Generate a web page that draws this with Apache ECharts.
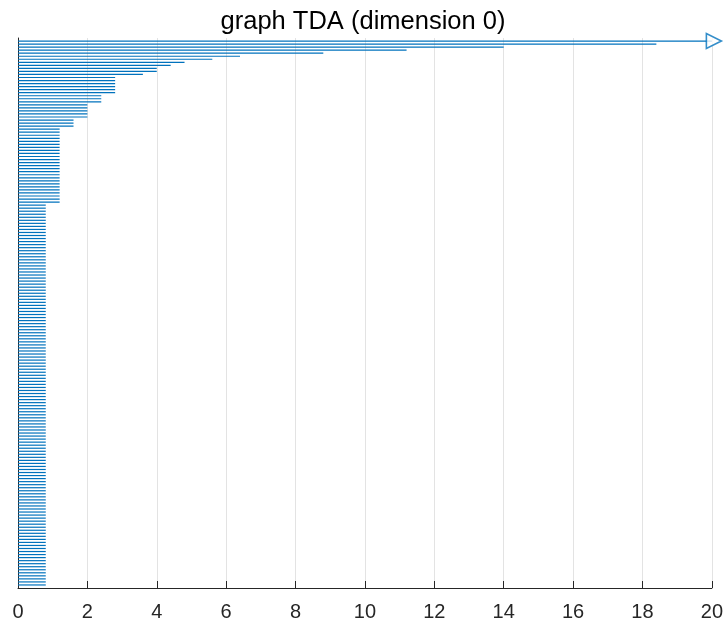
<!DOCTYPE html>
<html>
<head>
<meta charset="utf-8">
<script src="https://cdn.jsdelivr.net/npm/echarts@6/dist/echarts.min.js"></script>
<style>
  html, body { margin: 0; padding: 0; background: #fff; }
  #chart { width: 726px; height: 627px; }
</style>
</head>
<body>
<div id="chart"></div>
<script>
// Persistence barcode, dimension 0: every bar is born at 0 and dies at the value below.
// Infinity marks the class that never dies (drawn to the axis end with an arrow).
const TITLE = 'graph TDA (dimension 0)';
const BIRTH = 0;
const deaths = [
  Infinity, 18.4, 14.0, 11.2, 8.8, 6.4, 5.6, 4.8, 4.4, 4.0, 4.0, 3.6,
  2.8, 2.8, 2.8, 2.8, 2.8, 2.8,
  2.4, 2.4, 2.4,
  2.0, 2.0, 2.0, 2.0, 2.0,
  1.6, 1.6, 1.6,
  1.2, 1.2, 1.2, 1.2, 1.2, 1.2, 1.2, 1.2, 1.2, 1.2, 1.2, 1.2,
  1.2, 1.2, 1.2, 1.2, 1.2, 1.2, 1.2, 1.2, 1.2, 1.2, 1.2, 1.2, 1.2,
  0.8, 0.8, 0.8, 0.8, 0.8, 0.8, 0.8, 0.8, 0.8, 0.8, 0.8, 0.8, 0.8, 0.8, 0.8,
  0.8, 0.8, 0.8, 0.8, 0.8, 0.8, 0.8, 0.8, 0.8, 0.8, 0.8, 0.8, 0.8, 0.8, 0.8, 0.8,
  0.8, 0.8, 0.8, 0.8, 0.8, 0.8, 0.8, 0.8, 0.8, 0.8, 0.8, 0.8, 0.8, 0.8, 0.8, 0.8,
  0.8, 0.8, 0.8, 0.8, 0.8, 0.8, 0.8, 0.8, 0.8, 0.8, 0.8, 0.8, 0.8, 0.8, 0.8, 0.8,
  0.8, 0.8, 0.8, 0.8, 0.8, 0.8, 0.8, 0.8, 0.8, 0.8, 0.8, 0.8, 0.8, 0.8, 0.8, 0.8,
  0.8, 0.8, 0.8, 0.8, 0.8, 0.8, 0.8, 0.8, 0.8, 0.8, 0.8, 0.8, 0.8, 0.8, 0.8, 0.8,
  0.8, 0.8, 0.8, 0.8, 0.8, 0.8, 0.8, 0.8, 0.8, 0.8, 0.8, 0.8, 0.8, 0.8, 0.8, 0.8,
  0.8, 0.8, 0.8, 0.8, 0.8, 0.8, 0.8, 0.8, 0.8, 0.8, 0.8, 0.8, 0.8, 0.8, 0.8
];
const xTicks = [0, 2, 4, 6, 8, 10, 12, 14, 16, 18, 20];

const X_MIN = xTicks[0];
const X_MAX = xTicks[xTicks.length - 1];
const BAR_COLOR = '#0072BD';
const FONT = '"Liberation Sans", Arial, Helvetica, sans-serif';

// [birth, row, death] with the infinite bar clipped to the axis end
const bars = deaths.map((d, i) => [BIRTH, i + 1, isFinite(d) ? d : X_MAX]);
const arrows = deaths
  .map((d, i) => (isFinite(d) ? null : [X_MAX, i + 1]))
  .filter(Boolean);

const chart = echarts.init(document.getElementById('chart'), null, { renderer: 'canvas' });

chart.setOption({
  animation: false,
  backgroundColor: '#ffffff',
  title: {
    text: TITLE,
    left: 'center',
    top: 4,
    textStyle: { fontFamily: FONT, fontSize: 25.5, fontWeight: 'normal', color: '#000' }
  },
  grid: { left: 18, right: 14, top: 38, bottom: 39, containLabel: false },
  xAxis: {
    type: 'value',
    min: X_MIN,
    max: X_MAX,
    interval: 2,
    axisLine: { show: true, onZero: false, lineStyle: { color: '#262626', width: 1 } },
    axisTick: { show: true, inside: true, length: 7, lineStyle: { color: '#262626', width: 1 } },
    axisLabel: {
      margin: 14,
      fontFamily: '"Liberation Sans Narrow", ' + FONT,
      fontSize: 20,
      color: '#262626',
      formatter: v => String(v)
    },
    splitLine: { show: true, lineStyle: { color: '#e3e3e3', width: 1 } }
  },
  yAxis: {
    type: 'value',
    min: 0,
    max: deaths.length + 1,
    inverse: true,
    axisLine: { show: true, onZero: false, lineStyle: { color: '#262626', width: 1 } },
    axisTick: { show: false },
    axisLabel: { show: false },
    splitLine: { show: false }
  },
  series: [
    {
      type: 'custom',
      data: bars,
      clip: false,
      renderItem: function (params, api) {
        const row = api.value(1);
        const p0 = api.coord([api.value(0), row]);
        const p1 = api.coord([api.value(2), row]);
        return {
          type: 'line',
          shape: { x1: p0[0], y1: p0[1], x2: p1[0], y2: p1[1] },
          style: { stroke: BAR_COLOR, lineWidth: 1.2 }
        };
      },
      encode: { x: [0, 2], y: 1 }
    },
    {
      type: 'scatter',
      data: arrows,
      clip: false,
      symbol: 'triangle',
      symbolRotate: -90,
      symbolSize: 15,
      symbolOffset: [2, 0],
      itemStyle: { color: '#ffffff', borderColor: BAR_COLOR, borderWidth: 1.6 },
      z: 5
    }
  ]
});
</script>
</body>
</html>
